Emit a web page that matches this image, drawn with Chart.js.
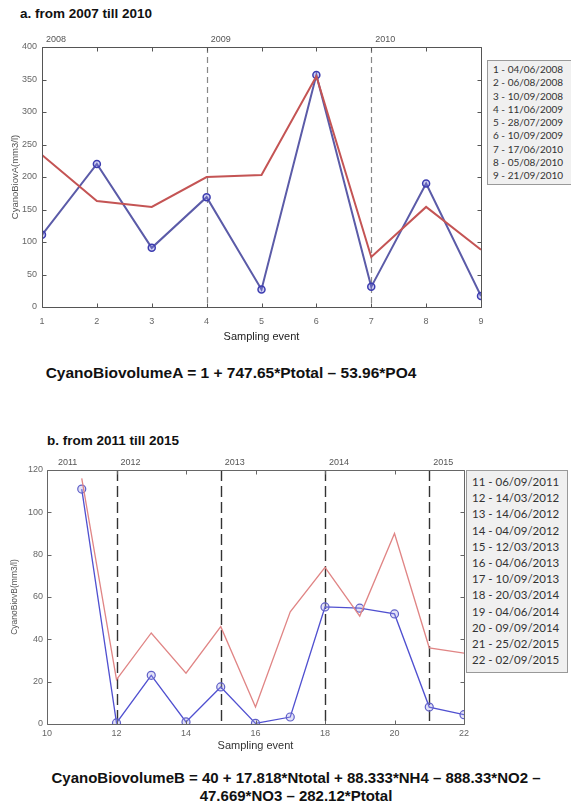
<!DOCTYPE html>
<html>
<head>
<meta charset="utf-8">
<script src="https://cdn.jsdelivr.net/npm/chart.js@4.4.1/dist/chart.umd.min.js"></script>
<style>
  body { margin: 0; background: #fff; width: 571px; height: 811px; position: relative; overflow: hidden; font-family: "Liberation Sans", Arial, sans-serif; }
  .box { position: absolute; }
  .title { position: absolute; font-weight: bold; font-size: 13.5px; color: #111; }
  .eq { position: absolute; font-weight: bold; color: #111; text-align: center; line-height: 18px; white-space: nowrap; }
  .dates { position: absolute; background: #f0f0f0; border: 1px solid #999; font-family: Lato, "Open Sans", sans-serif; color: #333; padding: 2px 5px; box-sizing: border-box; white-space: nowrap; overflow: hidden; }
</style>
</head>
<body>

<div class="title" style="left:20px; top:6px;">a. from 2007 till 2010</div>
<div class="box" style="left:0; top:0; width:571px; height:350px;"><canvas id="chartA" width="571" height="350"></canvas></div>
<div class="dates" id="datesA" style="left:487px; top:60px; width:86px; height:125px; font-size:10px; line-height:13.25px;"></div>
<div class="eq" style="left:0; top:364px; width:462px; font-size:15.5px;">CyanoBiovolumeA = 1 + 747.65*Ptotal – 53.96*PO4</div>

<div class="title" style="left:47px; top:433px;">b. from 2011 till 2015</div>
<div class="box" style="left:0; top:440px; width:571px; height:320px;"><canvas id="chartB" width="571" height="320"></canvas></div>
<div class="dates" id="datesB" style="left:466px; top:470px; width:102px; height:203px; font-size:11.5px; line-height:16.2px; padding-top:3px;"></div>
<div class="eq" style="left:0; top:769px; width:592px; font-size:15px;">CyanoBiovolumeB = 40 + 17.818*Ntotal + 88.333*NH4 – 888.33*NO2 –<br>47.669*NO3 – 282.12*Ptotal</div>

<script>
// ---- chart a: 2007 - 2010 ----
var eventsA = [1, 2, 3, 4, 5, 6, 7, 8, 9];
var observedA = [111, 220, 91, 169, 27, 357, 31, 190, 17];
var modelA = [234, 163, 154, 200, 203, 355, 77, 154, 88];
var datesA = ['04/06/2008', '06/08/2008', '10/09/2008', '11/06/2009', '28/07/2009',
              '10/09/2009', '17/06/2010', '05/08/2010', '21/09/2010'];
var yearsA = ['2008', '2009', '2010'];
var yearStartsA = [1, 4, 7];
var yearLinesA = [4, 7];

// ---- chart b: 2011 - 2015 ----
var eventsB = [11, 12, 13, 14, 15, 16, 17, 18, 19, 20, 21, 22];
var observedB = [111, 0.5, 23, 1, 17.5, 0.3, 3.3, 55.3, 54.7, 52, 8, 4.4];
var modelB = [116, 21, 43, 24, 46, 8, 53, 74, 51, 90, 36, 33.5];
var datesB = ['06/09/2011', '14/03/2012', '14/06/2012', '04/09/2012', '12/03/2013', '04/06/2013',
              '10/09/2013', '20/03/2014', '04/06/2014', '09/09/2014', '25/02/2015', '02/09/2015'];
var yearsB = ['2011', '2012', '2013', '2014', '2015'];
var yearStartsB = [10.2, 12, 15, 18, 21];
var yearLinesB = [12, 15, 18, 21];

function fillDates(id, events, dates) {
    var html = '';
    events.forEach(function (e, i) {
        html += '<div>' + e + ' - ' + dates[i] + '</div>';
    });
    document.getElementById(id).innerHTML = html;
}
fillDates('datesA', eventsA, datesA);
fillDates('datesB', eventsB, datesB);

function toPoints(xs, ys) {
    return xs.map(function (x, i) { return {x: x, y: ys[i]}; });
}

// matlab style box: frame, inward ticks on all sides, dashed year lines, year labels
var framePlugin = {
    id: 'frame',
    beforeDatasetsDraw: function (chart, args, opts) {
        var ctx = chart.ctx, a = chart.chartArea, x = chart.scales.x;
        ctx.save();
        ctx.strokeStyle = opts.dashColor;
        ctx.lineWidth = opts.dashWidth;
        ctx.setLineDash(opts.dash);
        opts.lines.forEach(function (v) {
            var px = Math.round(x.getPixelForValue(v)) + 0.5;
            ctx.beginPath();
            ctx.moveTo(px, a.top);
            ctx.lineTo(px, a.bottom);
            ctx.stroke();
        });
        ctx.restore();
    },
    afterDatasetsDraw: function (chart, args, opts) {
        var ctx = chart.ctx, a = chart.chartArea, x = chart.scales.x, y = chart.scales.y;
        ctx.save();
        ctx.strokeStyle = opts.frameColor;
        ctx.lineWidth = 1;
        var l = Math.round(a.left) + 0.5, r = Math.round(a.right) + 0.5;
        var t = Math.round(a.top) + 0.5, b = Math.round(a.bottom) + 0.5;
        ctx.beginPath();
        ctx.rect(l, t, r - l, b - t);
        x.ticks.forEach(function (tk) {
            var px = Math.round(x.getPixelForValue(tk.value)) + 0.5;
            ctx.moveTo(px, t); ctx.lineTo(px, t + 4);
            ctx.moveTo(px, b); ctx.lineTo(px, b - 4);
        });
        y.ticks.forEach(function (tk) {
            var py = Math.round(y.getPixelForValue(tk.value)) + 0.5;
            ctx.moveTo(l, py); ctx.lineTo(l + 4, py);
            ctx.moveTo(r, py); ctx.lineTo(r - 4, py);
        });
        ctx.stroke();

        ctx.fillStyle = '#555';
        ctx.font = opts.yearFont;
        ctx.textAlign = 'left';
        ctx.textBaseline = 'bottom';
        opts.years.forEach(function (yr, i) {
            ctx.fillText(yr, x.getPixelForValue(opts.starts[i]) + 4, a.top - 3);
        });
        ctx.restore();
    }
};

var tickFont = {family: "'Liberation Sans Narrow', 'Liberation Sans', Arial", size: 9};

var chartA = new Chart(document.getElementById('chartA').getContext('2d'), {
    type: 'line',
    data: {
        datasets: [{
            label: 'model',
            data: toPoints(eventsA, modelA),
            borderColor: '#c45454',
            borderWidth: 2,
            pointRadius: 0,
            tension: 0
        }, {
            label: 'observed',
            data: toPoints(eventsA, observedA),
            borderColor: '#5b5ba8',
            borderWidth: 2,
            pointRadius: 3.5,
            pointBorderWidth: 1.5,
            pointBorderColor: '#3c3cb0',
            pointBackgroundColor: 'rgba(120,120,220,0.35)',
            tension: 0
        }]
    },
    options: {
        responsive: false,
        animation: false,
        layout: {padding: {top: 47, right: 90, left: 0, bottom: 0}},
        plugins: {
            legend: {display: false},
            tooltip: {enabled: false},
            frame: {
                lines: yearLinesA, years: yearsA, starts: yearStartsA,
                dash: [6, 4], dashColor: '#888', dashWidth: 1.2,
                frameColor: '#555', yearFont: "9px 'Liberation Sans Narrow', 'Liberation Sans', Arial"
            }
        },
        scales: {
            x: {
                type: 'linear', min: 1, max: 9,
                ticks: {stepSize: 1, color: '#666', font: tickFont, padding: 9},
                grid: {display: false, drawTicks: false},
                border: {display: false},
                title: {display: true, text: 'Sampling event', color: '#222',
                        font: {family: 'Liberation Sans', size: 11}, padding: {top: 0, bottom: 6}},
                afterFit: function (s) { s.height = 43; }
            },
            y: {
                min: 0, max: 400,
                ticks: {stepSize: 50, color: '#666', font: tickFont, padding: 5},
                grid: {display: false, drawTicks: false},
                border: {display: false},
                title: {display: true, text: 'CyanoBiovA(mm3/l)', color: '#555',
                        font: {family: 'Liberation Sans', size: 9.5}, padding: {top: 10, bottom: 0}},
                afterFit: function (s) { s.width = 42; }
            }
        }
    },
    plugins: [framePlugin]
});

var chartB = new Chart(document.getElementById('chartB').getContext('2d'), {
    type: 'line',
    data: {
        datasets: [{
            label: 'model',
            data: toPoints(eventsB, modelB),
            borderColor: '#e08585',
            borderWidth: 1.3,
            pointRadius: 0,
            tension: 0
        }, {
            label: 'observed',
            data: toPoints(eventsB, observedB),
            borderColor: '#5050d0',
            borderWidth: 1.3,
            pointRadius: 4,
            pointBorderWidth: 1.2,
            pointBorderColor: '#6060c8',
            pointBackgroundColor: 'rgba(160,160,230,0.3)',
            tension: 0
        }]
    },
    options: {
        responsive: false,
        animation: false,
        layout: {padding: {top: 30, right: 107, left: 0, bottom: 0}},
        plugins: {
            legend: {display: false},
            tooltip: {enabled: false},
            frame: {
                lines: yearLinesB, years: yearsB, starts: yearStartsB,
                dash: [11, 5], dashColor: '#333', dashWidth: 1.4,
                frameColor: '#666', yearFont: "9px 'Liberation Sans Narrow', 'Liberation Sans', Arial"
            }
        },
        scales: {
            x: {
                type: 'linear', min: 10, max: 22,
                ticks: {stepSize: 2, color: '#666', font: tickFont, padding: 4},
                grid: {display: false, drawTicks: false},
                border: {display: false},
                title: {display: true, text: 'Sampling event', color: '#333',
                        font: {family: 'Liberation Sans', size: 11}, padding: {top: 0, bottom: 7}},
                afterFit: function (s) { s.height = 36; }
            },
            y: {
                min: 0, max: 120,
                ticks: {stepSize: 20, color: '#666', font: tickFont, padding: 4},
                grid: {display: false, drawTicks: false},
                border: {display: false},
                title: {display: true, text: 'CyanoBiovB(mm3/l)', color: '#555',
                        font: {family: 'Liberation Sans', size: 8.5}, padding: {top: 10, bottom: 0}},
                afterFit: function (s) { s.width = 47; }
            }
        }
    },
    plugins: [framePlugin]
});
</script>
</body>
</html>
